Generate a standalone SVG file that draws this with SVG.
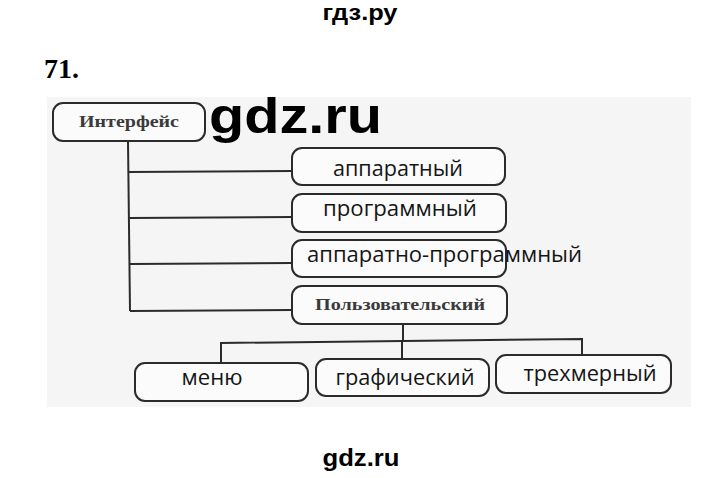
<svg xmlns="http://www.w3.org/2000/svg" width="720" height="478" viewBox="0 0 720 478">
<style>
.box{fill:#fbfbfb;stroke:#2b2b2b;stroke-width:2}
.ln{fill:none;stroke:#2b2b2b;stroke-width:2}
.sans{font-family:"Open Sans","Noto Sans","Liberation Sans",sans-serif;font-size:22px;fill:#151515}
.serif{font-family:"Liberation Serif","DejaVu Serif",serif;font-weight:bold;font-size:16px;fill:#3a3a3a}
.wm{font-family:"Liberation Sans",Arial,sans-serif;font-weight:bold;fill:#000}
</style>
<rect width="720" height="478" fill="#ffffff"/>
<text class="wm" x="360" y="20" font-size="22" text-anchor="middle" textLength="75" lengthAdjust="spacingAndGlyphs">гдз.ру</text>
<text x="44" y="78" font-family="Liberation Serif,serif" font-weight="bold" font-size="28" fill="#000">71.</text>
<rect x="47" y="97" width="644" height="310" fill="#f5f5f5"/>
<g id="connectors">
<path class="ln" d="M128,141 L130,311"/>
<path class="ln" d="M129,172 L292,171"/>
<path class="ln" d="M129,218 L292,217"/>
<path class="ln" d="M130,264 L292,263"/>
<path class="ln" d="M130,311 L292,310"/>
<path class="ln" d="M403,324 L403,342"/>
<path class="ln" d="M221,363 L221,343 L582,339 L582,355"/>
<path class="ln" d="M402,342 L402,359"/>
</g>
<g id="interface">
<rect class="box" x="53" y="103" width="152" height="38" rx="10"/>
<text class="serif" x="129" y="127" text-anchor="middle" textLength="100" lengthAdjust="spacingAndGlyphs">Интерфейс</text>
</g>
<text class="wm" x="209" y="133" font-size="50" textLength="173" lengthAdjust="spacingAndGlyphs">gdz.ru</text>
<g id="hardware">
<rect class="box" x="292" y="148" width="213" height="37" rx="10"/>
<text class="sans" x="398" y="176" text-anchor="middle" textLength="130" lengthAdjust="spacingAndGlyphs">аппаратный</text>
</g>
<g id="software">
<rect class="box" x="292" y="194" width="214" height="38" rx="10"/>
<text class="sans" x="400" y="216" text-anchor="middle" textLength="154" lengthAdjust="spacingAndGlyphs">программный</text>
</g>
<g id="hwsw">
<rect class="box" x="292" y="240" width="214" height="37" rx="10"/>
<text class="sans" x="307" y="262" textLength="275" lengthAdjust="spacingAndGlyphs">аппаратно-программный</text>
</g>
<g id="user">
<rect class="box" x="292" y="286" width="215" height="38" rx="10"/>
<text class="serif" x="400" y="310" text-anchor="middle" textLength="170" lengthAdjust="spacingAndGlyphs">Пользовательский</text>
</g>
<g id="menu">
<rect class="box" x="135" y="363" width="173" height="38" rx="10"/>
<text class="sans" x="212" y="385" text-anchor="middle" textLength="61" lengthAdjust="spacingAndGlyphs">меню</text>
</g>
<g id="graphic">
<rect class="box" x="316" y="359" width="173" height="37" rx="10"/>
<text class="sans" x="405" y="385" text-anchor="middle" textLength="139" lengthAdjust="spacingAndGlyphs">графический</text>
</g>
<g id="threed">
<rect class="box" x="496" y="355" width="175" height="38" rx="10"/>
<text class="sans" x="590" y="381" text-anchor="middle" textLength="133" lengthAdjust="spacingAndGlyphs">трехмерный</text>
</g>
<text class="wm" x="361" y="466" font-size="24" text-anchor="middle" textLength="77" lengthAdjust="spacingAndGlyphs">gdz.ru</text>
</svg>
